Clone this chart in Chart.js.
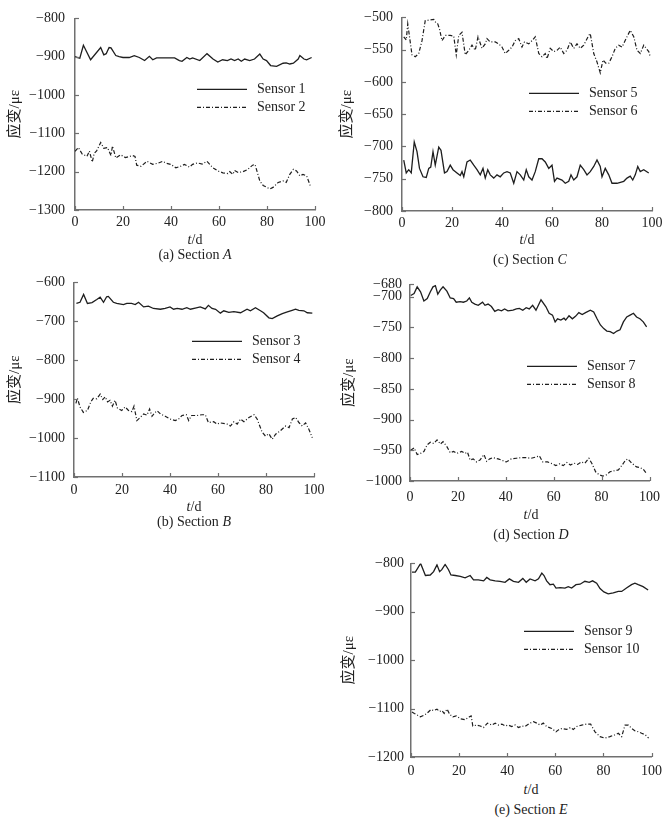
<!DOCTYPE html>
<html>
<head>
<meta charset="utf-8">
<title>Strain sections</title>
<script src="https://cdn.jsdelivr.net/npm/chart.js@4.4.0/dist/chart.umd.min.js"></script>
<style>
body { margin: 0; background: #fff; }
#page { position: relative; width: 668px; height: 822px; font-family: "Liberation Serif", "Times New Roman", serif; color: #222; }
canvas { position: absolute; }
.lbl { position: absolute; font-size: 14px; line-height: 14px; white-space: nowrap; transform: translate(-50%, -50%); }
</style>
</head>
<body>
<div id="page">
  <canvas id="chartA" width="330" height="235" style="left:0px;top:0px"></canvas>
  <canvas id="chartB" width="330" height="237" style="left:0px;top:265px"></canvas>
  <canvas id="chartC" width="334" height="236" style="left:334px;top:0px"></canvas>
  <canvas id="chartD" width="334" height="238" style="left:334px;top:268px"></canvas>
  <canvas id="chartE" width="334" height="234" style="left:334px;top:548px"></canvas>

  <div class="lbl" style="left:195px;top:240px"><i>t</i>/d</div>
  <div class="lbl" style="left:195px;top:255px">(a) Section <i>A</i></div>
  <div class="lbl" style="left:194px;top:507px"><i>t</i>/d</div>
  <div class="lbl" style="left:194px;top:522px">(b) Section <i>B</i></div>
  <div class="lbl" style="left:527px;top:240px"><i>t</i>/d</div>
  <div class="lbl" style="left:530px;top:260px">(c) Section <i>C</i></div>
  <div class="lbl" style="left:531px;top:515px"><i>t</i>/d</div>
  <div class="lbl" style="left:531px;top:535px">(d) Section <i>D</i></div>
  <div class="lbl" style="left:531px;top:790px"><i>t</i>/d</div>
  <div class="lbl" style="left:531px;top:810px">(e) Section <i>E</i></div>
</div>
<script>
// day / strain pairs
var sensor1 = [[0,-900],[2,-904],[3.5,-870],[6.5,-908],[10.7,-876],[12,-895],[13,-892],[14.2,-876],[15,-877],[17,-897],
  [18.4,-900],[20,-902],[22.6,-902],[24.7,-897],[26.8,-902],[29,-910],[31,-899],[32.4,-908],[34,-903],[39.3,-903],
  [41.5,-903],[43.5,-910],[44.6,-912],[46.6,-902],[47.8,-906],[49,-903],[52,-910],[55,-892],[57.5,-906],[59.5,-914],
  [61.5,-908],[63.5,-910],[65,-906],[66.5,-910],[68,-906],[69.3,-912],[70.7,-906],[72.8,-910],[74.8,-906],[77,-893],
  [78.4,-906],[79.8,-910],[81.5,-923],[84,-925],[86.7,-917],[88,-916],[89.5,-919],[91,-917],[93,-906],[93.7,-897],
  [95.4,-906],[96.5,-908],[98.6,-902]];
var sensor2 = [[0,-1147],[1.4,-1137],[3,-1154],[5,-1160],[6,-1146],[7.2,-1175],[8,-1152],[9,-1146],[10.7,-1124],[12,-1139],
  [13.5,-1137],[15,-1158],[15.6,-1133],[17,-1164],[19,-1156],[21,-1163],[24,-1158],[25,-1160],[25.7,-1183],[27.5,-1186],
  [30,-1173],[32.4,-1181],[34.5,-1178],[36.5,-1173],[38,-1178],[40,-1181],[42,-1190],[44,-1186],[45.6,-1181],[47.7,-1188],
  [49,-1181],[51,-1177],[53,-1180],[55,-1173],[57.5,-1190],[59.5,-1198],[61.6,-1203],[63.7,-1205],[64.5,-1200],[65.8,-1207],
  [66.5,-1197],[68,-1202],[70,-1200],[72,-1194],[74,-1183],[75,-1181],[77,-1224],[78.4,-1236],[81.2,-1245],[82.5,-1241],
  [84.7,-1228],[86.7,-1224],[88,-1228],[89.5,-1207],[91,-1194],[92.3,-1198],[93.7,-1211],[95,-1207],[96.5,-1211],[98,-1236]];
var sensor3 = [[1,-654],[2.5,-651],[4,-631],[5.6,-654],[7.5,-652],[9.5,-644],[10.9,-638],[12.3,-651],[13.6,-637],[14.3,-636],
  [16.4,-651],[17.8,-654],[20.6,-657],[22,-654],[24,-654],[25.5,-657],[26.9,-651],[29,-663],[31,-661],[33.1,-667],
  [36,-669],[38,-667],[40,-663],[41.5,-669],[43,-667],[45,-669],[47,-665],[48.5,-669],[50.5,-666],[52.6,-663],
  [54.7,-668],[56,-659],[57.5,-667],[59,-669],[61,-679],[62.4,-673],[64.5,-677],[66.6,-675],[69.4,-678],[72.1,-669],
  [73.5,-673],[75.6,-665],[77.7,-673],[79,-678],[81.2,-691],[82.6,-693],[84.7,-686],[86.8,-680],[88.9,-676],[90.9,-672],
  [92.3,-669],[93.7,-672],[95.8,-673],[97.2,-678],[99.3,-679]];
var sensor4 = [[0.8,-911],[1.4,-897],[2.5,-920],[3.9,-934],[5.6,-929],[7,-907],[8,-898],[9.5,-899],[10.9,-887],[12,-901],
  [13,-894],[14,-907],[15,-903],[16,-918],[17.1,-903],[18.1,-923],[19.9,-929],[21.3,-920],[22.7,-929],[24.1,-932],
  [25,-918],[26.2,-955],[27.6,-947],[29,-938],[30.4,-941],[31.5,-925],[32.5,-944],[33.8,-934],[34.7,-930],[36,-938],
  [38,-944],[40,-951],[42.2,-955],[43.6,-951],[45,-942],[46.8,-940],[47.8,-955],[49,-942],[51.3,-942],[53.3,-940],
  [54.7,-940],[56,-960],[58.2,-958],[59.6,-964],[61,-961],[63.8,-964],[65.2,-969],[66.6,-958],[68,-964],[69.4,-951],
  [70.8,-958],[72.9,-947],[75,-940],[76.3,-951],[78.4,-985],[79.8,-995],[81.2,-989],[82.6,-1003],[84,-990],[86,-981],
  [88.2,-969],[89.6,-973],[91,-951],[92.3,-947],[93.7,-960],[95.1,-969],[96.5,-961],[97.9,-978],[99.3,-999]];
var sensor5 = [[0.7,-721],[1.7,-741],[2.7,-736],[3.7,-741],[4.9,-693],[6,-708],[7,-734],[8.4,-747],[9.7,-748],[10.7,-734],
  [11.5,-732],[12.4,-708],[13.3,-729],[14.7,-701],[15.6,-706],[17,-741],[18,-739],[19.3,-729],[20.4,-736],[22,-741],
  [23.3,-745],[24,-739],[24.7,-747],[26,-724],[27.3,-721],[28.7,-729],[30,-736],[31.3,-744],[32.4,-734],[33.3,-749],
  [34.3,-736],[35.3,-744],[36.7,-749],[38,-744],[39.3,-747],[40.7,-741],[42,-739],[43.3,-741],[44.7,-757],[46,-739],
  [47.3,-744],[48.7,-752],[49.7,-736],[50.7,-747],[52,-752],[53.3,-739],[54.7,-719],[56,-719],[57.3,-724],[58.7,-734],
  [60,-729],[61,-754],[62,-749],[64,-752],[65.3,-757],[66.7,-754],[67.6,-744],[68.7,-752],[70,-747],[71.3,-729],
  [72.7,-736],[74,-744],[75.3,-739],[76.7,-731],[78,-721],[79.3,-731],[80,-747],[81.3,-734],[82.7,-744],[84,-757],
  [86,-757],[88.7,-754],[90,-749],[91.3,-746],[92.3,-752],[93.3,-744],[94.3,-731],[95.3,-739],[96.7,-736],[98.7,-741]];
var sensor6 = [[0.7,-530],[1.7,-535],[2.3,-510],[4,-558],[5.3,-561],[6.7,-556],[8,-536],[9.3,-505],[11.3,-504],[12.7,-503],
  [13.5,-508],[14.3,-510],[15,-518],[16,-536],[17.3,-528],[19.3,-528],[20.7,-529],[21.7,-558],[22.7,-528],[24,-523],
  [25.3,-558],[26.7,-551],[28,-543],[29.3,-551],[30.4,-530],[32,-548],[33.3,-541],[34,-533],[35.3,-538],[37.3,-538],
  [38.7,-541],[40,-546],[41.3,-556],[42.7,-551],[44,-546],[45.3,-536],[46.7,-533],[48,-546],[49,-538],[50.7,-541],
  [52,-536],[53.3,-530],[54.7,-556],[56,-561],[57.3,-556],[58,-564],[59.3,-548],[60.7,-553],[62,-551],[63.3,-546],
  [64.7,-556],[66,-551],[67.3,-538],[68.7,-548],[70,-541],[71.3,-548],[72.7,-543],[74.7,-528],[75.3,-525],[76.7,-556],
  [78,-569],[79.3,-586],[80.4,-566],[81.5,-571],[82.7,-571],[84,-561],[85.3,-548],[86.7,-543],[88,-546],[90,-530],
  [91.3,-520],[92.7,-530],[94,-551],[95.3,-556],[96.7,-543],[98.7,-553],[99.3,-561]];
var sensor7 = [[0.3,-698],[1.7,-695],[3,-684],[4.4,-692],[5.8,-707],[7.2,-703],[8.5,-692],[9.6,-684],[10.6,-682],[11.6,-696],
  [12.7,-689],[13.8,-684],[15.4,-691],[16.8,-702],[18.2,-703],[19.3,-709],[20.9,-708],[22.3,-709],[23.7,-707],[24.8,-702],
  [25.8,-709],[27.1,-712],[28.5,-714],[30.3,-709],[31.3,-714],[32.6,-712],[34,-716],[35.4,-724],[36.8,-721],[38.2,-723],
  [39.5,-720],[40.9,-723],[43,-722],[44.4,-720],[45.7,-719],[47.1,-722],[48.5,-718],[49.8,-720],[51.2,-714],[52.6,-722],
  [54.7,-705],[56.7,-716],[58.1,-727],[59.5,-730],[60.6,-741],[61.6,-736],[63,-738],[64.3,-735],[65,-738],[66.4,-731],
  [67.8,-736],[69.1,-732],[70.5,-726],[71.9,-729],[73.3,-726],[75.3,-722],[76.7,-725],[78.1,-736],[79.5,-746],[80.9,-752],
  [82.2,-756],[83.6,-757],[85,-760],[86.4,-756],[87.7,-754],[89.1,-741],[90.5,-733],[91.9,-730],[93.3,-727],[94.6,-733],
  [96,-736],[97.4,-741],[98.8,-749]];
var sensor8 = [[0.3,-950],[1.7,-946],[3,-957],[4.4,-955],[5.8,-952],[7.2,-941],[8.5,-937],[9.9,-939],[11.3,-933],[12.7,-940],
  [13.8,-936],[15.4,-944],[16.8,-954],[18.2,-952],[19.6,-955],[21.6,-952],[23,-955],[24,-953],[25.1,-966],[26.4,-964],
  [27.8,-969],[29.2,-966],[30.9,-957],[32,-968],[33.3,-964],[34.7,-962],[36.8,-964],[38.2,-966],[40.2,-969],[42.3,-964],
  [44.4,-963],[46.4,-962],[48.5,-962],[50.6,-963],[52.6,-961],[54,-959],[55.4,-969],[57.4,-969],[59.5,-972],[60.9,-975],
  [62.5,-972],[64,-975],[65.5,-970],[67,-974],[68.5,-971],[70,-973],[71.5,-969],[73,-971],[74.7,-963],[76,-972],
  [77.5,-985],[79,-990],[80.5,-992],[82,-990],[83.5,-985],[85.7,-983],[87,-982],[88.4,-975],[90,-966],[91,-964],
  [92.6,-971],[94.6,-977],[96,-978],[97.4,-981],[98.8,-988]];
var sensor9 = [[0.4,-818],[1.8,-818],[4,-800],[6,-825],[8,-824],[9.4,-817],[10.8,-803],[11.9,-817],[12.8,-813],[14.2,-802],
  [15.6,-813],[16.6,-824],[18.4,-825],[20.5,-827],[22.5,-830],[24.6,-825],[26,-834],[28,-834],[30.2,-836],[31.5,-829],
  [32.9,-834],[35,-836],[37,-837],[39.1,-839],[40.9,-832],[42.6,-837],[44.7,-839],[46.5,-831],[47.9,-839],[49.5,-832],
  [51.6,-836],[53,-832],[54.4,-820],[55.3,-825],[56.4,-836],[57.8,-844],[59.2,-843],[60.3,-851],[62,-850],[64,-851],
  [65.4,-848],[66.8,-851],[68.6,-844],[70.3,-843],[72.3,-837],[74.1,-839],[75.5,-836],[77.2,-841],[78.6,-852],[80.2,-859],
  [82,-863],[84.1,-861],[86.2,-858],[87.6,-858],[89.6,-851],[91.7,-844],[93.1,-841],[94.5,-844],[96.5,-848],[98.6,-855]];
var sensor10 = [[0.4,-1107],[1.4,-1110],[2.5,-1113],[3.9,-1117],[5.3,-1114],[6.6,-1110],[8.3,-1102],[9.4,-1104],[10.8,-1101],[11.9,-1106],
  [12.8,-1104],[13.8,-1110],[15,-1101],[16.1,-1112],[17.4,-1117],[18.8,-1115],[20.5,-1121],[22.5,-1123],[24.3,-1117],[25,-1115],
  [25.7,-1136],[27.4,-1134],[28.8,-1136],[30.2,-1139],[31.8,-1130],[33.6,-1134],[35,-1130],[36.4,-1134],[37.8,-1132],[39.1,-1136],
  [40.5,-1134],[41.9,-1137],[43.3,-1134],[44.7,-1139],[46.1,-1136],[47.4,-1137],[49.5,-1130],[50.9,-1127],[52.3,-1130],[53.7,-1134],
  [55,-1130],[56.4,-1137],[58.5,-1141],[60.3,-1148],[61.3,-1144],[62.7,-1141],[64.7,-1143],[66.4,-1139],[67.5,-1143],[68.9,-1137],
  [71,-1134],[73,-1132],[74.7,-1132],[76.5,-1148],[78.6,-1158],[80.6,-1161],[82.7,-1158],[84.8,-1154],[86.2,-1151],[87.6,-1158],
  [89,-1134],[90.4,-1134],[91.8,-1141],[93.2,-1146],[94.6,-1148],[95.9,-1151],[97.4,-1154],[98.8,-1161]];

// tick labels
var xTicks = [0, 20, 40, 60, 80, 100];
var yTicksA = [-1300, -1200, -1100, -1000, -900, -800];
var yTicksB = [-1100, -1000, -900, -800, -700, -600];
var yTicksC = [-800, -750, -700, -650, -600, -550, -500];
var yTicksD = [-1000, -950, -900, -850, -800, -750, -700, -680];
var yTicksE = [-1200, -1100, -1000, -900, -800];

var LINE = "#1e1e1e";
var AXIS = "#707070";
var SERIF = "'Liberation Serif', 'Times New Roman', 'Noto Sans CJK SC', serif";

Chart.defaults.font.family = SERIF;
Chart.defaults.font.size = 14;
Chart.defaults.color = "#222";

function toPoints(pairs) {
    return pairs.map(function (p) { return { x: p[0], y: p[1] }; });
}

function minusLabel(v) {
    return (v < 0 ? "\u2212" : "") + Math.abs(v);
}

// small tick marks pointing into the plot
var innerTicks = {
    id: "innerTicks",
    afterDraw: function (chart) {
        var c = chart.ctx;
        var a = chart.chartArea;
        var xs = chart.scales.x, ys = chart.scales.y;
        c.save();
        c.strokeStyle = AXIS;
        c.lineWidth = 1.2;
        ys.ticks.forEach(function (t) {
            var py = Math.round(ys.getPixelForValue(t.value)) + 0.5;
            c.beginPath(); c.moveTo(a.left, py); c.lineTo(a.left + 4, py); c.stroke();
        });
        xs.ticks.forEach(function (t) {
            var px = Math.round(xs.getPixelForValue(t.value)) + 0.5;
            c.beginPath(); c.moveTo(px, a.bottom); c.lineTo(px, a.bottom - 4); c.stroke();
        });
        c.restore();
    }
};

// legend drawn inside the plot area
var insideLegend = {
    id: "insideLegend",
    afterDraw: function (chart, args, opts) {
        var c = chart.ctx;
        var a = chart.chartArea;
        chart.data.datasets.forEach(function (ds, i) {
            var x = a.left + opts.x;
            var y = a.top + opts.y + i * 18;
            c.save();
            c.strokeStyle = ds.borderColor;
            c.lineWidth = ds.borderWidth;
            c.setLineDash(ds.borderDash || []);
            c.beginPath(); c.moveTo(x, y); c.lineTo(x + 50, y); c.stroke();
            c.setLineDash([]);
            c.fillStyle = "#222";
            c.font = "14px " + SERIF;
            c.textBaseline = "middle";
            c.fillText(ds.label, x + 60, y);
            c.restore();
        });
    }
};

function buildPanel(id, cfg) {
    var ctx = document.getElementById(id);
    return new Chart(ctx, {
        type: "line",
        data: {
            datasets: [
                {
                    label: cfg.names[0],
                    data: toPoints(cfg.solid),
                    borderColor: LINE,
                    borderWidth: 1.3,
                    pointRadius: 0,
                    tension: 0
                },
                {
                    label: cfg.names[1],
                    data: toPoints(cfg.dashed),
                    borderColor: LINE,
                    borderWidth: 1.2,
                    borderDash: [4, 2, 1, 2],
                    pointRadius: 0,
                    tension: 0
                }
            ]
        },
        options: {
            responsive: false,
            animation: false,
            layout: { padding: { top: cfg.padTop, right: cfg.padRight, left: 0, bottom: 0 } },
            plugins: {
                legend: { display: false },
                tooltip: { enabled: false },
                insideLegend: { x: cfg.legX, y: cfg.legY }
            },
            scales: {
                x: {
                    type: "linear",
                    min: 0,
                    max: 100,
                    afterBuildTicks: function (s) { s.ticks = xTicks.map(function (v) { return { value: v }; }); },
                    ticks: { padding: cfg.xPad, autoSkip: false, maxRotation: 0 },
                    grid: { display: false, drawTicks: false },
                    border: { display: true, color: AXIS, width: 1.5 },
                    afterFit: function (s) { s.height = 25; }
                },
                y: {
                    type: "linear",
                    min: cfg.yTicks[0],
                    max: cfg.yTicks[cfg.yTicks.length - 1],
                    afterBuildTicks: function (s) { s.ticks = cfg.yTicks.map(function (v) { return { value: v }; }); },
                    ticks: { padding: cfg.yPad, autoSkip: false, callback: minusLabel },
                    grid: { display: false, drawTicks: false },
                    border: { display: true, color: AXIS, width: 1.5 },
                    title: {
                        display: true,
                        text: "应变/με",
                        font: { size: 15 },
                        padding: { top: cfg.titlePad, bottom: 0 }
                    },
                    afterFit: function (s) { s.width = cfg.yWidth; }
                }
            }
        },
        plugins: [innerTicks, insideLegend]
    });
}

buildPanel("chartA", { names: ["Sensor 1", "Sensor 2"], solid: sensor1, dashed: sensor2, yTicks: yTicksA,
    padTop: 15, padRight: 15, yWidth: 75, yPad: 10, xPad: 4, titlePad: 6, legX: 122, legY: 71 });
buildPanel("chartB", { names: ["Sensor 3", "Sensor 4"], solid: sensor3, dashed: sensor4, yTicks: yTicksB,
    padTop: 14, padRight: 16, yWidth: 74, yPad: 9, xPad: 5, titlePad: 6, legX: 118, legY: 59 });
buildPanel("chartC", { names: ["Sensor 5", "Sensor 6"], solid: sensor5, dashed: sensor6, yTicks: yTicksC,
    padTop: 14, padRight: 16, yWidth: 68, yPad: 9, xPad: 4, titlePad: 4, legX: 127, legY: 76 });
buildPanel("chartD", { names: ["Sensor 7", "Sensor 8"], solid: sensor7, dashed: sensor8, yTicks: yTicksD,
    padTop: 14, padRight: 15, yWidth: 76, yPad: 8, xPad: 8, titlePad: 6, legX: 117, legY: 82 });
buildPanel("chartE", { names: ["Sensor 9", "Sensor 10"], solid: sensor9, dashed: sensor10, yTicks: yTicksE,
    padTop: 14, padRight: 16, yWidth: 77, yPad: 7, xPad: 6, titlePad: 6, legX: 113, legY: 68 });
</script>
</body>
</html>
